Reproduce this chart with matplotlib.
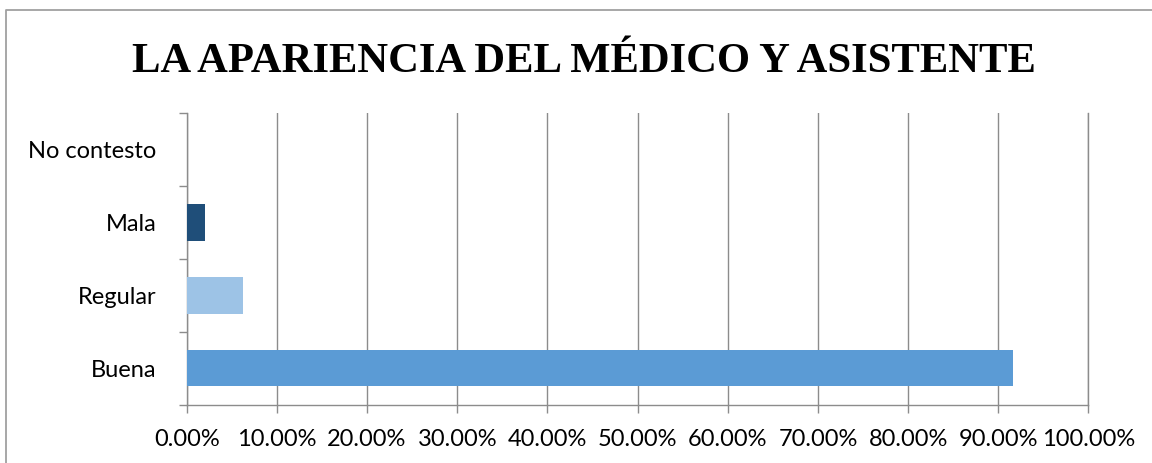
import matplotlib
matplotlib.use("Agg")
import matplotlib.pyplot as plt
from matplotlib.ticker import FuncFormatter, MultipleLocator
from matplotlib.lines import Line2D

categories = ["Buena", "Regular", "Mala", "No contesto"]
values = [91.67, 6.25, 2.08, 0.0]
colors = ["#5B9BD5", "#9DC3E6", "#1F4E79", "#5B9BD5"]
title = "LA APARIENCIA DEL MÉDICO Y ASISTENTE"

fig = plt.figure(figsize=(11.52, 4.63), dpi=100)
bx, by = 6/1152, 1 - 10/463
fig.lines.append(Line2D([bx, bx, 1.0], [0.0, by, by], transform=fig.transFigure,
                        color="#a0a0a0", linewidth=1.3))
ax = fig.add_axes([186.7/1152, 1 - 404.7/463, (1088.5-186.7)/1152, (404.7-113)/463])

y = list(range(len(categories)))
ax.barh(y, values, height=0.5, color=colors, zorder=3)
ax.set_xlim(0, 100)
ax.set_ylim(-0.5, len(categories) - 0.5)
ax.xaxis.set_major_locator(MultipleLocator(10))
ax.xaxis.set_major_formatter(FuncFormatter(lambda v, p: f"{v:.2f}%"))
ax.grid(axis="x", color="#8c8c8c", linewidth=1.0, zorder=0)
ax.axvline(100, color="#8c8c8c", linewidth=1.0, zorder=0, clip_on=False)
ax.set_yticks(y)
ax.set_yticklabels(categories)
ax.set_yticks([i - 0.5 for i in range(len(categories) + 1)], minor=True)
ax.tick_params(axis="y", which="major", length=0, pad=22)
ax.tick_params(axis="y", which="minor", length=5.8, color="#8c8c8c", width=1.0)
ax.tick_params(axis="x", length=5.8, color="#8c8c8c", width=1.0, pad=12)
for lab in ax.get_xticklabels() + ax.get_yticklabels():
    lab.set_fontfamily("Lato")
    lab.set_fontsize(17)
for s in ["top", "right"]:
    ax.spines[s].set_visible(False)
for s in ["left", "bottom"]:
    ax.spines[s].set_color("#8c8c8c")
    ax.spines[s].set_linewidth(1.0)

fig.text(584/1152, 1 - 72/463, title, ha="center", va="baseline",
         fontfamily="Liberation Serif", fontweight="bold", fontsize=30.7)

fig.savefig("out.png", dpi=100, facecolor="white")
